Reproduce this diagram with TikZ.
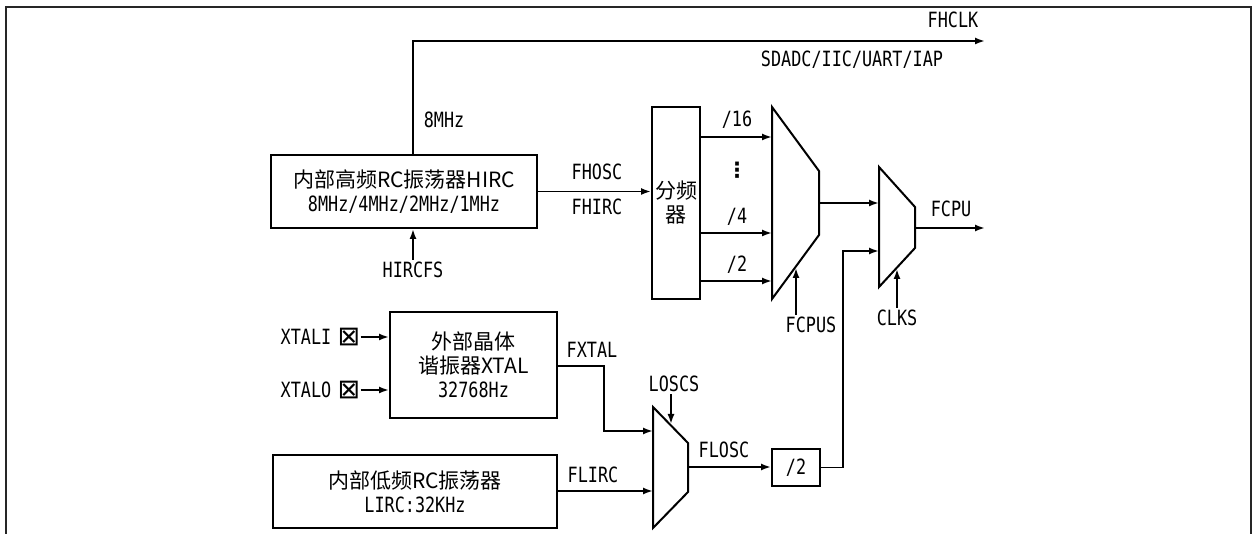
\documentclass[tikz,border=0pt]{standalone}
\usepackage{fontspec}
\setmonofont{DejaVu Sans Mono}[FakeStretch=0.8]
\newfontfamily\cjk{Noto Sans CJK SC}
\newfontfamily\symf{DejaVu Sans}
\usetikzlibrary{arrows.meta}
\begin{document}
\begin{tikzpicture}[x=1pt,y=-1pt,
  every node/.style={font=\fontsize{21}{24}\selectfont\ttfamily, inner sep=2pt},
  blk/.style={draw, line width=2pt, align=center, inner sep=0pt},
  arr/.style={-{Latex[length=10pt,width=7pt]}, line width=1.8pt},
  mux/.style={draw, line width=2pt, line join=miter},
  pin/.style={inner sep=0pt, font=\fontsize{27}{27}\selectfont\symf}]
\useasboundingbox (0,0) rectangle (1253,534);
\draw[line width=2pt, black!85] (6,534) -- (6,7) -- (1251,7) -- (1251,534);

% blocks
\node[blk, minimum width=266pt, minimum height=73pt] (hirc) at (404,191.5)
  {\cjk{内部高频}RC\cjk{振荡器}HIRC\\8MHz/4MHz/2MHz/1MHz};
\node[blk, minimum width=48pt, minimum height=192pt] (div) at (676,203) {\cjk{分频}\\\cjk{器}};
\node[blk, minimum width=167pt, minimum height=106pt] (xtal) at (473.5,365)
  {\cjk{外部晶体}\\\cjk{谐振器}XTAL\\32768Hz};
\node[blk, minimum width=284pt, minimum height=73pt] (lirc) at (415,491.5)
  {\cjk{内部低频}RC\cjk{振荡器}\\LIRC:32KHz};
\node[blk, minimum width=48pt, minimum height=37pt] (d2) at (796,467.5) {/2};

% muxes
\draw[mux] (772,107) -- (819,171) -- (819,235) -- (772,299) -- cycle;
\draw[mux] (879,167) -- (915,207) -- (915,248) -- (879,287) -- cycle;
\draw[mux] (653,407) -- (688,443) -- (688,492) -- (653,528) -- cycle;
\coordinate (m1a) at (772,137);
\coordinate (m1b) at (772,233);
\coordinate (m1c) at (772,281);
\coordinate (m1o) at (819,203);
\coordinate (m1s) at (796,268);
\coordinate (m2a) at (879,203);
\coordinate (m2b) at (879,251);
\coordinate (m2o) at (915,228);
\coordinate (m2s) at (897,269);
\coordinate (m3a) at (653,431);
\coordinate (m3b) at (653,491);
\coordinate (m3o) at (688,467);
\coordinate (m3s) at (671,424);

% labels
\node (fhclk) at (953,20) {FHCLK};
\node (periph) at (852,60) {SDADC/IIC/UART/IAP};
\node (mhz) at (444,120) {8MHz};
\node (fhosc) at (597,172) {FHOSC};
\node (fhirc) at (597,207) {FHIRC};
\node (hircfs) at (413,270) {HIRCFS};
\node (d16) at (737,120) {/16};
\node (dots) at (737,170) {\symf\bfseries ⋮};
\node (d4) at (737,217) {/4};
\node (d2l) at (737,265) {/2};
\node (fcpus) at (811,325) {FCPUS};
\node (fcpu) at (951,209) {FCPU};
\node (clks) at (897,318) {CLKS};
\node (xtali) at (306,337) {XTALI};
\node (xtalo) at (306,390) {XTALO};
\node[pin] (xi) at (349,337) {⊠};
\node[pin] (xo) at (349,390) {⊠};
\node (fxtal) at (592,350) {FXTAL};
\node (flirc) at (593,475) {FLIRC};
\node (loscs) at (674,384) {LOSCS};
\node (flosc) at (724,450) {FLOSC};

% connectors
\coordinate (top8) at (413,41);
\coordinate (fhclkend) at (985,41);
\draw[arr] (top8 |- hirc.north) -- (top8) -- (fhclkend);
\draw[arr] (hirc.east) -- (div.west |- hirc.east);
\draw[arr] (hircfs.north) -- (hircfs.north |- hirc.south);
\draw[arr] (m1a -| div.east) -- (m1a);
\draw[arr] (m1b -| div.east) -- (m1b);
\draw[arr] (m1c -| div.east) -- (m1c);
\draw[arr] (m1o) -- (m2a);
\coordinate (fcpuend) at (985,228);
\draw[arr] (m2o) -- (fcpuend);
\draw[arr] (m1s |- fcpus.north) -- (m1s);
\draw[arr] (m2s |- clks.north) -- (m2s);
\draw[arr] (xi.east) -- (xi.east -| xtal.west);
\draw[arr] (xo.east) -- (xo.east -| xtal.west);
\coordinate (fx1) at (604,366);
\draw[arr] (fx1 -| xtal.east) -- (fx1) -- (fx1 |- m3a) -- (m3a);
\draw[arr] (m3b -| lirc.east) -- (m3b);
\draw[arr] (m3s |- loscs.south) -- (m3s);
\draw[arr] (m3o) -- (m3o -| d2.west);
\coordinate (up) at (843,467.5);
\draw[arr] (d2.east) -- (up) -- (up |- m2b) -- (m2b);
\end{tikzpicture}
\end{document}
